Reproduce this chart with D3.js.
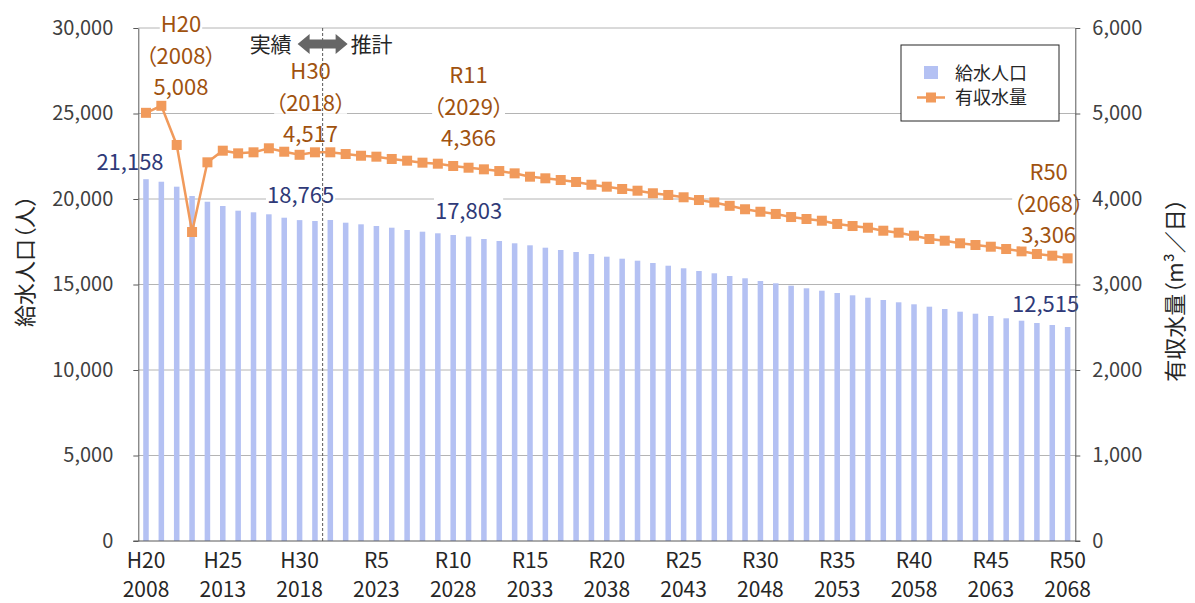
<!DOCTYPE html>
<html lang="ja">
<head>
<meta charset="utf-8">
<script src="https://cdn.jsdelivr.net/npm/d3@7"></script>
<style>
  body { margin: 0; background: #fff; }
  svg text { font-family: "Noto Sans CJK JP", "Noto Sans", sans-serif; font-feature-settings: "palt"; }
</style>
</head>
<body>
<svg id="chart" width="1195" height="603"></svg>
<script>
// 年度
const years = [
  2008, 2009, 2010, 2011, 2012, 2013, 2014, 2015, 2016, 2017,
  2018, 2019, 2020, 2021, 2022, 2023, 2024, 2025, 2026, 2027,
  2028, 2029, 2030, 2031, 2032, 2033, 2034, 2035, 2036, 2037,
  2038, 2039, 2040, 2041, 2042, 2043, 2044, 2045, 2046, 2047,
  2048, 2049, 2050, 2051, 2052, 2053, 2054, 2055, 2056, 2057,
  2058, 2059, 2060, 2061, 2062, 2063, 2064, 2065, 2066, 2067,
  2068
]
// x軸ラベル（和暦 / 西暦）
const tickYears = [2008, 2013, 2018, 2023, 2028, 2033, 2038, 2043, 2048, 2053, 2058, 2063, 2068]
const tickEras = ['H20', 'H25', 'H30', 'R5', 'R10', 'R15', 'R20', 'R25', 'R30', 'R35', 'R40', 'R45', 'R50']

// 給水人口（人）
const population = [
  21158, 21010, 20720, 20175, 19840, 19590, 19316, 19222, 19105, 18906,
  18765, 18713, 18772, 18614, 18520, 18421, 18322, 18187, 18088, 17994,
  17895, 17803, 17661, 17544, 17409, 17292, 17152, 17018, 16901, 16784,
  16626, 16509, 16392, 16257, 16099, 15947, 15789, 15655, 15497, 15363,
  15205, 15070, 14930, 14778, 14637, 14503, 14368, 14228, 14094, 13959,
  13842, 13702, 13567, 13409, 13292, 13158, 13023, 12883, 12749, 12632,
  12515
]
// 有収水量（m3/日）
const waterVolume = [
  5008, 5090, 4632, 3614, 4429, 4565, 4534, 4546, 4593, 4553,
  4517, 4546, 4546, 4526, 4506, 4495, 4468, 4448, 4425, 4413,
  4386, 4366, 4347, 4327, 4300, 4261, 4242, 4222, 4199, 4167,
  4144, 4117, 4097, 4067, 4047, 4020, 3988, 3960, 3920, 3880,
  3851, 3825, 3789, 3766, 3746, 3708, 3684, 3664, 3629, 3606,
  3571, 3532, 3512, 3482, 3462, 3442, 3415, 3388, 3357, 3337,
  3306
]

const popTicks = [0, 5000, 10000, 15000, 20000, 25000, 30000]
const waterTicks = [0, 1000, 2000, 3000, 4000, 5000, 6000]

// 注記（年・和暦）
const noteYears = [2008, 2018, 2029, 2068]
const noteEras = ['H20', 'H30', 'R11', 'R50']
const popNoteYears = [2008, 2018, 2029, 2068]

const BAR_COLOR = '#b4c1f3'
const LINE_COLOR = '#f19a5b'
const WATER_TEXT = '#a0520f'
const POP_TEXT = '#2f3a78'
const AXIS_COLOR = '#595959'
const GRID_COLOR = '#b4b4b4'

const plot = { left: 138.3, right: 1075.3, top: 28, bottom: 541 }

const svg = d3.select('#chart')

const x = d3.scaleBand()
  .domain(years)
  .range([plot.left, plot.right])
  .paddingInner(0)
  .paddingOuter(0)

const yPop = d3.scaleLinear().domain([0, 30000]).range([plot.bottom, plot.top])
const yWater = d3.scaleLinear().domain([0, 6000]).range([plot.bottom, plot.top])

const cx = d => x(d) + x.bandwidth() / 2
const fmt = d3.format(',')

// グリッド
svg.append('g')
  .selectAll('line')
  .data(popTicks.filter(d => d > 0))
  .enter().append('line')
  .attr('x1', plot.left)
  .attr('x2', plot.right)
  .attr('y1', d => yPop(d))
  .attr('y2', d => yPop(d))
  .attr('stroke', GRID_COLOR)
  .attr('stroke-width', 1)

// 棒（給水人口）
const barW = x.bandwidth() * 0.36
svg.append('g')
  .selectAll('rect')
  .data(years)
  .enter().append('rect')
  .attr('x', d => cx(d) - barW / 2)
  .attr('width', barW)
  .attr('y', (d, i) => yPop(population[i]))
  .attr('height', (d, i) => plot.bottom - yPop(population[i]))
  .attr('fill', BAR_COLOR)

// 折れ線（有収水量）
const line = d3.line()
  .x((d, i) => cx(years[i]))
  .y(d => yWater(d))

svg.append('path')
  .datum(waterVolume)
  .attr('d', line)
  .attr('fill', 'none')
  .attr('stroke', LINE_COLOR)
  .attr('stroke-width', 2.5)

const mk = 10
svg.append('g')
  .selectAll('rect')
  .data(waterVolume)
  .enter().append('rect')
  .attr('x', (d, i) => cx(years[i]) - mk / 2)
  .attr('y', d => yWater(d) - mk / 2)
  .attr('width', mk)
  .attr('height', mk)
  .attr('fill', LINE_COLOR)

// 白抜き背景つきテキスト
function label (parent, tx, ty, str, color, size) {
  const g = parent.append('g')
  const t = g.append('text')
    .attr('x', tx)
    .attr('y', ty)
    .attr('text-anchor', 'middle')
    .attr('fill', color)
    .style('font-size', size + 'px')
    .text(str)
  const b = t.node().getBBox()
  g.insert('rect', 'text')
    .attr('x', b.x - 1)
    .attr('y', b.y + 4)
    .attr('width', b.width + 2)
    .attr('height', b.height - 7)
    .attr('fill', '#fff')
  return g
}

const notes = svg.append('g')

// 有収水量の注記: [x方向ずれ, 最下行ベースラインのずれ]
const waterShift = [[35, -18], [11, -13], [0, -22], [-19, -15]]
noteYears.forEach((yr, k) => {
  const i = years.indexOf(yr)
  const nx = cx(yr) + waterShift[k][0]
  const base = yWater(waterVolume[i]) + waterShift[k][1]
  label(notes, nx, base - 63, noteEras[k], WATER_TEXT, 22)
  label(notes, nx, base - 31, `（${yr}）`, WATER_TEXT, 22)
  label(notes, nx, base, fmt(waterVolume[i]), WATER_TEXT, 22)
})

// 給水人口の注記
const popShift = [[-16, -9], [1, -17], [0, -18], [-22, -15]]
popNoteYears.forEach((yr, k) => {
  const i = years.indexOf(yr)
  label(notes, cx(yr) + popShift[k][0], yPop(population[i]) + popShift[k][1], fmt(population[i]), POP_TEXT, 22)
})

// 実績 / 推計 の区切り線
const splitX = x(2020)
svg.append('line')
  .attr('x1', splitX)
  .attr('x2', splitX)
  .attr('y1', plot.top)
  .attr('y2', plot.bottom)
  .attr('stroke', AXIS_COLOR)
  .attr('stroke-width', 1)
  .attr('stroke-dasharray', '3,2')

// 軸
const leftAxis = svg.append('g')
  .attr('transform', `translate(${plot.left},0)`)
  .call(d3.axisLeft(yPop).tickValues(popTicks).tickSize(5).tickSizeOuter(0).tickPadding(20).tickFormat(fmt))

const rightAxis = svg.append('g')
  .attr('transform', `translate(${plot.right},0)`)
  .call(d3.axisRight(yWater).tickValues(waterTicks).tickSize(5).tickSizeOuter(0).tickPadding(12).tickFormat(fmt))

;[leftAxis, rightAxis].forEach(g => {
  g.select('.domain').attr('stroke', AXIS_COLOR)
  g.selectAll('.tick line').attr('stroke', AXIS_COLOR)
  g.selectAll('.tick text')
    .attr('fill', '#404040')
    .style('font-size', '20px')
})

svg.append('line')
  .attr('x1', plot.left - 5)
  .attr('x2', plot.right + 5)
  .attr('y1', plot.bottom)
  .attr('y2', plot.bottom)
  .attr('stroke', AXIS_COLOR)

// x軸ラベル
const xLabels = svg.append('g')
  .selectAll('g')
  .data(tickYears)
  .enter().append('g')
  .attr('transform', d => `translate(${cx(d)},0)`)

xLabels.append('text')
  .attr('y', 568)
  .attr('text-anchor', 'middle')
  .attr('fill', '#262626')
  .style('font-size', '21px')
  .text((d, i) => tickEras[i])

xLabels.append('text')
  .attr('y', 597)
  .attr('text-anchor', 'middle')
  .attr('fill', '#262626')
  .style('font-size', '21px')
  .text(d => d)

// 軸タイトル
svg.append('text')
  .attr('transform', 'translate(33,261) rotate(-90)')
  .attr('text-anchor', 'middle')
  .attr('fill', '#262626')
  .style('font-size', '22px')
  .text('給水人口（人）')

svg.append('text')
  .attr('transform', 'translate(1183,290) rotate(-90)')
  .attr('text-anchor', 'middle')
  .attr('fill', '#262626')
  .style('font-size', '22px')
  .text('有収水量（m³／日）')

// 実績 ⇔ 推計
const ay = 44
svg.append('path')
  .attr('d', `M${splitX - 25},${ay} l12,-10 v5.5 h26 v-5.5 l12,10 l-12,10 v-5.5 h-26 v5.5 z`)
  .attr('fill', '#666')

svg.append('text')
  .attr('x', splitX - 31)
  .attr('y', ay + 8)
  .attr('text-anchor', 'end')
  .attr('fill', '#262626')
  .style('font-size', '21px')
  .text('実績')

svg.append('text')
  .attr('x', splitX + 28)
  .attr('y', ay + 8)
  .attr('text-anchor', 'start')
  .attr('fill', '#262626')
  .style('font-size', '21px')
  .text('推計')

// 凡例
const legend = svg.append('g')
  .attr('transform', 'translate(901,45)')

legend.append('rect')
  .attr('width', 158)
  .attr('height', 76)
  .attr('fill', '#fff')
  .attr('stroke', '#262626')
  .attr('stroke-width', 1)

legend.append('rect')
  .attr('x', 23)
  .attr('y', 21)
  .attr('width', 14)
  .attr('height', 13)
  .attr('fill', BAR_COLOR)

legend.append('line')
  .attr('x1', 16)
  .attr('x2', 44)
  .attr('y1', 52.5)
  .attr('y2', 52.5)
  .attr('stroke', LINE_COLOR)
  .attr('stroke-width', 2.5)

legend.append('rect')
  .attr('x', 25)
  .attr('y', 47.5)
  .attr('width', 10)
  .attr('height', 10)
  .attr('fill', LINE_COLOR)

legend.append('text')
  .attr('x', 54)
  .attr('y', 35)
  .attr('fill', '#262626')
  .style('font-size', '18px')
  .text('給水人口')

legend.append('text')
  .attr('x', 54)
  .attr('y', 59)
  .attr('fill', '#262626')
  .style('font-size', '18px')
  .text('有収水量')
</script>
</body>
</html>
